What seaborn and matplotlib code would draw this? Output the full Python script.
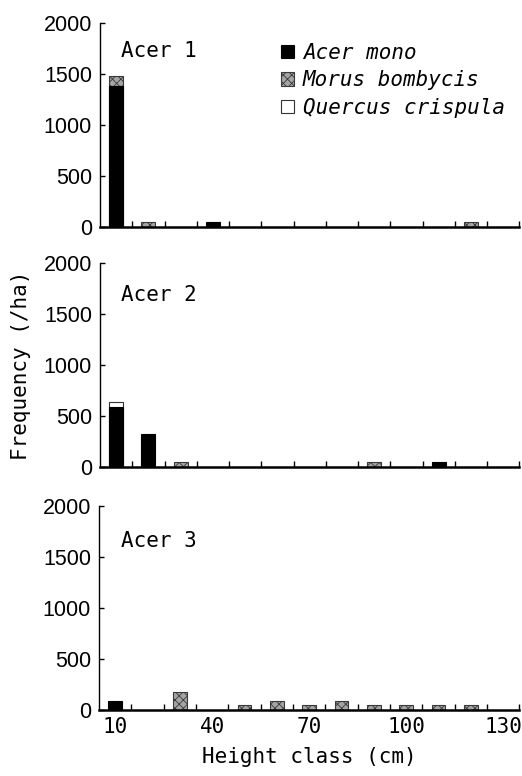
import numpy as np
import pandas as pd
import matplotlib
matplotlib.use("Agg")
import matplotlib.pyplot as plt
from matplotlib.patches import Patch
from matplotlib.ticker import FixedLocator
import seaborn as sns

# ---- data ----
height_classes = ["10", "20", "30", "40", "50", "60", "70", "80", "90", "100", "110", "120", "130"]
tick_labels = ["10", "40", "70", "100", "130"]
species = ["Acer mono", "Morus bombycis", "Quercus crispula"]
panel_names = ["Acer 1", "Acer 2", "Acer 3"]

acer1_mono    = [1380, 0, 0, 50, 0, 0, 0, 0, 0, 0, 0, 0, 0]
acer1_morus   = [95, 50, 0, 0, 0, 0, 0, 0, 0, 0, 0, 50, 0]
acer1_quercus = [0, 0, 0, 0, 0, 0, 0, 0, 0, 0, 0, 0, 0]

acer2_mono    = [590, 320, 0, 0, 0, 0, 0, 0, 0, 0, 50, 0, 0]
acer2_morus   = [0, 0, 50, 0, 0, 0, 0, 0, 50, 0, 0, 0, 0]
acer2_quercus = [45, 0, 0, 0, 0, 0, 0, 0, 0, 0, 0, 0, 0]

acer3_mono    = [90, 0, 0, 0, 0, 0, 0, 0, 0, 0, 0, 0, 0]
acer3_morus   = [0, 0, 180, 0, 45, 90, 45, 90, 45, 45, 45, 45, 0]
acer3_quercus = [0, 0, 0, 0, 0, 0, 0, 0, 0, 0, 0, 0, 0]

panels = [
    (acer1_mono, acer1_morus, acer1_quercus),
    (acer2_mono, acer2_morus, acer2_quercus),
    (acer3_mono, acer3_morus, acer3_quercus),
]

sns.set_style("ticks")
MONO = ["DejaVu Sans Mono", "Noto Sans CJK JP"]
plt.rcParams["font.family"] = MONO
plt.rcParams["hatch.linewidth"] = 0.6
for k in ["text.color", "axes.labelcolor", "xtick.color", "ytick.color", "axes.edgecolor"]:
    plt.rcParams[k] = "black"

W, H = 522, 776
fig = plt.figure(figsize=(W / 100, H / 100), dpi=100)

# axes rectangles in pixels: (left, top(2000), bottom(0))
rects = [(100, 22.7, 226.7), (100, 262.7, 466.7), (99, 505.7, 710)]
right = 519.3
label_y = [56.7, 300.7, 546.7]

styles = {
    "mono": dict(color="black", edgecolor="black", linewidth=0.8),
    "morus": dict(color="#a4a4a4", edgecolor="#3a3a3a", linewidth=0.8, hatch="xxxx"),
    "quercus": dict(color="white", edgecolor="#333333", linewidth=0.8),
}

axes = []
for i, ((mono, morus, quercus), (l, t, b)) in enumerate(zip(panels, rects)):
    ax = fig.add_axes([l / W, 1 - b / H, (right - l) / W, (b - t) / H])
    axes.append(ax)
    mono = np.array(mono, float)
    morus = np.array(morus, float)
    quercus = np.array(quercus, float)
    c1 = mono
    c2 = mono + morus
    c3 = c2 + quercus
    layers = [("quercus", c3, quercus), ("morus", c2, morus), ("mono", c1, mono)]
    for key, cum, own in layers:
        df = pd.DataFrame({"cls": height_classes, "val": cum})
        df = df[own > 0]
        if len(df) == 0:
            continue
        sns.barplot(data=df, x="cls", y="val", order=height_classes, width=0.43,
                    saturation=1, ax=ax, **styles[key])
    ax.set_xlim(-0.5, 12.5)
    ax.set_ylim(0, 2000)
    ax.set_xlabel("")
    ax.set_ylabel("")
    sns.despine(ax=ax)
    ax.spines["bottom"].set_linewidth(1.8)
    ax.spines["left"].set_linewidth(1.0)
    ax.set_yticks([0, 500, 1000, 1500, 2000])
    ax.set_yticklabels(["0", "500", "1000", "1500", "2000"],
                       fontfamily="Liberation Sans", fontsize=15.5, color="black")
    ax.tick_params(axis="y", direction="in", length=3.5, width=1, pad=5.8)
    ax.set_xticks([0, 3, 6, 9, 12])
    if i == 2:
        ax.set_xticklabels(tick_labels, fontsize=15, color="black")
    else:
        ax.set_xticklabels([])
    ax.tick_params(axis="x", which="major", length=0, pad=5)
    ax.xaxis.set_minor_locator(FixedLocator(np.arange(0.5, 12.6, 1.0)))
    ax.tick_params(axis="x", which="minor", direction="in", length=4, width=1)
    ax.text((120.7 - l) / (right - l), (b - label_y[i]) / (b - t), panel_names[i],
            transform=ax.transAxes, fontsize=15, va="baseline", ha="left")

handles = [
    Patch(facecolor="black", edgecolor="black", linewidth=0.8),
    Patch(facecolor="#a4a4a4", edgecolor="#3a3a3a", linewidth=0.8, hatch="xxxx"),
    Patch(facecolor="white", edgecolor="#333333", linewidth=0.8),
]
axes[0].legend(handles, species, loc="upper left",
               bbox_to_anchor=((280.7 - 100) / (right - 100), (226.7 - 43) / 204.0),
               frameon=False, borderpad=0, borderaxespad=0,
               handlelength=0.62, handleheight=0.62, handletextpad=0.45,
               labelspacing=0.36,
               prop=dict(family=MONO, style="italic", size=15))

fig.text(21 / W, 1 - 365 / H, "Frequency (/ha)", rotation=90, ha="center",
         va="center", fontsize=15)
fig.text((100 + right) / 2 / W, 1 - 763 / H, "Height class (cm)", ha="center",
         va="baseline", fontsize=15)

fig.savefig("out.png", dpi=100)
